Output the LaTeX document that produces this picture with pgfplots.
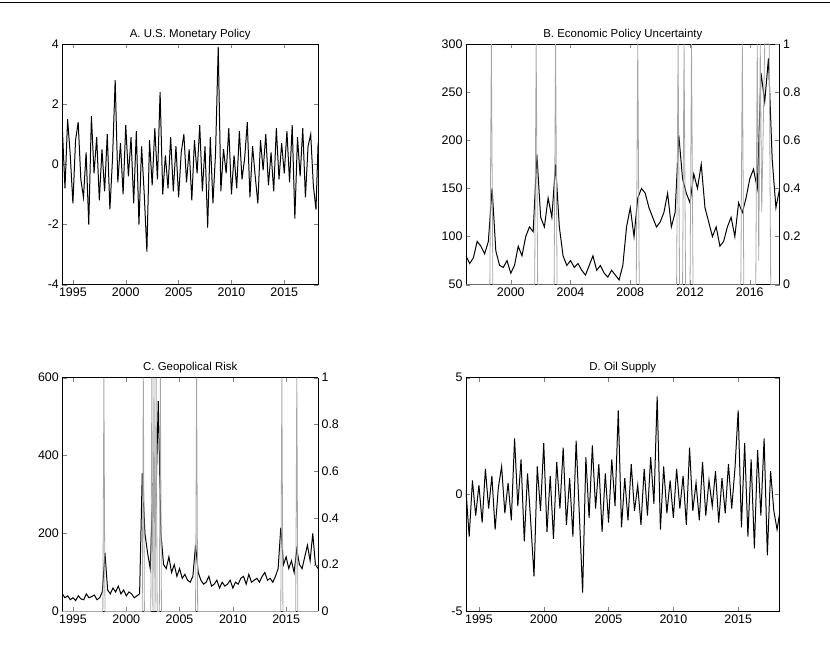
\documentclass[border=0pt]{standalone}
\usepackage{pgfplots}
\pgfplotsset{compat=1.18}
\usepackage{fontspec}
\setmainfont{Liberation Sans}
\begin{document}
\begin{tikzpicture}[x=1bp,y=1bp]
\path (0,0) rectangle (830,648);
\draw[line width=0.8bp] (0,646) -- (830,646);
\pgfplotsset{every axis/.style={scale only axis, anchor=south west, tick align=inside,
  font=\fontsize{12.5}{14}\selectfont, /pgf/number format/assume math mode=true,
  title style={font=\fontsize{11.5}{13}\selectfont, yshift=-5pt},
  /pgf/number format/1000 sep={}, axis line style={line width=0.7bp}}}
% A
\begin{axis}[at={(62bp,363bp)}, width=256bp, height=241bp, xmin=1994, xmax=2018.2, ymin=-4, ymax=4,
 xtick={1995,2000,2005,2010,2015}, ytick={-4,-2,0,2,4}, title={A. U.S. Monetary Policy}]
\addplot[black, line width=1bp] coordinates {(1994.0,1.2)(1994.25,-0.8)(1994.5,1.5)(1994.75,0.3)(1995.0,-1.3)(1995.25,0.8)(1995.5,1.4)(1995.75,-0.5)(1996,-1.1)(1996.25,0.4)(1996.5,-2.0)(1996.75,1.6)(1997,-0.3)(1997.25,0.9)(1997.5,-1.2)(1997.75,0.5)(1998,-0.9)(1998.25,1.0)(1998.5,-1.5)(1998.75,0.2)(1999,2.8)(1999.25,-0.6)(1999.5,0.7)(1999.75,-1.0)(2000,1.3)(2000.25,-0.4)(2000.5,0.9)(2000.75,-1.3)(2001,1.1)(2001.25,-2.0)(2001.5,0.6)(2001.75,-1.0)(2002,-2.9)(2002.25,0.8)(2002.5,-0.7)(2002.75,1.2)(2003,-0.5)(2003.25,2.4)(2003.5,-1.0)(2003.75,0.3)(2004,-0.8)(2004.25,0.9)(2004.5,-0.9)(2004.75,0.6)(2005,-1.1)(2005.25,0.4)(2005.5,1.0)(2005.75,-0.6)(2006,0.5)(2006.25,-1.2)(2006.5,0.8)(2006.75,-0.3)(2007,1.3)(2007.25,-0.9)(2007.5,0.6)(2007.75,-2.1)(2008,0.9)(2008.25,-1.3)(2008.5,0.4)(2008.75,3.9)(2009,-0.9)(2009.25,0.5)(2009.5,-0.3)(2009.75,1.2)(2010,-1.0)(2010.25,0.3)(2010.5,-0.8)(2010.75,1.1)(2011,-0.5)(2011.25,0.2)(2011.5,1.4)(2011.75,-1.1)(2012,0.6)(2012.25,-0.4)(2012.5,-1.3)(2012.75,0.8)(2013,-0.2)(2013.25,1.0)(2013.5,-0.7)(2013.75,0.4)(2014,-0.9)(2014.25,1.2)(2014.5,-0.5)(2014.75,0.7)(2015,-0.3)(2015.25,1.1)(2015.5,-0.6)(2015.75,1.3)(2016,-1.8)(2016.25,0.9)(2016.5,-0.4)(2016.75,1.2)(2017,-1.1)(2017.25,0.6)(2017.5,1.0)(2017.75,-0.7)(2018,-1.5)(2018.2,0.7)};
\end{axis}
% B
\begin{axis}[at={(466bp,363bp)}, width=314bp, height=241bp, xmin=1997, xmax=2018, ymin=50, ymax=300,
 xtick={2000,2004,2008,2012,2016}, ytick={50,100,...,300}, axis y line*=left, title={B. Economic Policy Uncertainty}]
\addplot[black, line width=1bp] coordinates {(1997.0,80)(1997.25,72)(1997.5,78)(1997.75,95)(1998,90)(1998.25,82)(1998.5,95)(1998.75,150)(1999,85)(1999.25,70)(1999.5,68)(1999.75,75)(2000,62)(2000.25,70)(2000.5,90)(2000.75,80)(2001,100)(2001.25,110)(2001.5,105)(2001.75,185)(2002,120)(2002.25,110)(2002.5,140)(2002.75,120)(2003,175)(2003.25,110)(2003.5,80)(2003.75,70)(2004,75)(2004.25,68)(2004.5,72)(2004.75,65)(2005,60)(2005.25,70)(2005.5,80)(2005.75,65)(2006,70)(2006.25,62)(2006.5,58)(2006.75,65)(2007,60)(2007.25,55)(2007.5,70)(2007.75,110)(2008,130)(2008.25,100)(2008.5,140)(2008.75,150)(2009,145)(2009.25,130)(2009.5,120)(2009.75,110)(2010,115)(2010.25,125)(2010.5,145)(2010.75,110)(2011,125)(2011.25,205)(2011.5,160)(2011.75,145)(2012,135)(2012.25,165)(2012.5,150)(2012.75,175)(2013,130)(2013.25,115)(2013.5,100)(2013.75,110)(2014,90)(2014.25,95)(2014.5,110)(2014.75,120)(2015,100)(2015.25,135)(2015.5,125)(2015.75,140)(2016,160)(2016.25,170)(2016.5,150)(2016.75,270)(2017,240)(2017.25,285)(2017.5,180)(2017.75,130)(2018,150)};
\end{axis}
\begin{axis}[at={(466bp,363bp)}, width=314bp, height=241bp, xmin=1997, xmax=2018, ymin=0, ymax=1,
 axis y line*=right, axis x line=none, ytick={0,0.2,...,1}]
\addplot[gray!70, line width=0.8bp] coordinates {(1997,0)(1998.6,0)(1998.7,1)(1998.8,0)(2001.6,0)(2001.7,1)(2001.8,0)(2002.9,0)(2003.0,1)(2003.1,0)(2008.4,0)(2008.5,1)(2008.6,0)(2011.1,0)(2011.2,1)(2011.3,0)(2011.5,0)(2011.6,1)(2011.7,0)(2012.0,0)(2012.1,1)(2012.2,0)(2015.4,0)(2015.5,1)(2015.6,0)(2016.4,0)(2016.5,1)(2016.6,0.1)(2016.7,1)(2016.8,0.3)(2017.0,1)(2017.3,1)(2017.4,0)(2018,0)};
\end{axis}
% C
\begin{axis}[at={(62bp,36bp)}, width=256bp, height=234bp, xmin=1994, xmax=2018, ymin=0, ymax=600,
 xtick={1995,2000,2005,2010,2015}, ytick={0,200,400,600}, axis y line*=left, title={C. Geopolical Risk}]
\addplot[black, line width=1bp] coordinates {(1994,45)(1994.25,35)(1994.5,40)(1994.75,30)(1995,35)(1995.25,28)(1995.5,40)(1995.75,32)(1996,30)(1996.25,45)(1996.5,35)(1996.75,38)(1997,42)(1997.25,30)(1997.5,35)(1997.75,50)(1998,150)(1998.25,55)(1998.5,45)(1998.75,60)(1999,50)(1999.25,65)(1999.5,45)(1999.75,55)(2000,40)(2000.25,50)(2000.5,45)(2000.75,35)(2001,40)(2001.25,45)(2001.5,355)(2001.75,200)(2002,150)(2002.25,110)(2002.5,330)(2002.75,250)(2003,540)(2003.25,200)(2003.5,120)(2003.75,110)(2004,140)(2004.25,100)(2004.5,120)(2004.75,90)(2005,110)(2005.25,85)(2005.5,95)(2005.75,80)(2006,75)(2006.25,90)(2006.5,170)(2006.75,100)(2007,80)(2007.25,70)(2007.5,75)(2007.75,90)(2008,65)(2008.25,70)(2008.5,80)(2008.75,60)(2009,75)(2009.25,65)(2009.5,70)(2009.75,80)(2010,60)(2010.25,75)(2010.5,70)(2010.75,85)(2011,90)(2011.25,70)(2011.5,95)(2011.75,75)(2012,80)(2012.25,85)(2012.5,75)(2012.75,90)(2013,100)(2013.25,80)(2013.5,85)(2013.75,75)(2014,90)(2014.25,110)(2014.5,215)(2014.75,120)(2015,140)(2015.25,110)(2015.5,130)(2015.75,100)(2016,160)(2016.25,120)(2016.5,110)(2016.75,140)(2017,170)(2017.25,130)(2017.5,200)(2017.75,120)(2018,110)};
\end{axis}
\begin{axis}[at={(62bp,36bp)}, width=256bp, height=234bp, xmin=1994, xmax=2018, ymin=0, ymax=1,
 axis y line*=right, axis x line=none, ytick={0,0.2,...,1}]
\addplot[gray!70, line width=0.8bp] coordinates {(1994,0)(1997.8,0)(1997.9,1)(1998.0,0)(2001.5,0)(2001.6,1)(2001.7,0)(2002.3,0)(2002.4,1)(2002.5,0)(2002.6,1)(2002.7,0)(2002.8,1)(2002.9,0)(2003.1,0)(2003.2,1)(2003.3,0)(2006.5,0)(2006.6,1)(2006.7,0)(2014.5,0)(2014.6,1)(2014.7,0)(2015.9,0)(2016.0,1)(2016.1,0)(2018,0)};
\end{axis}
% D
\begin{axis}[at={(466bp,36bp)}, width=314bp, height=234bp, xmin=1994, xmax=2018.2, ymin=-5, ymax=5,
 xtick={1995,2000,2005,2010,2015}, ytick={-5,0,5}, title={D. Oil Supply}]
\addplot[black, line width=1bp] coordinates {(1994,0.2)(1994.25,-1.8)(1994.5,0.6)(1994.75,-0.9)(1995,0.4)(1995.25,-1.2)(1995.5,1.1)(1995.75,-0.6)(1996,0.8)(1996.25,-1.5)(1996.5,0.3)(1996.75,1.2)(1997,-0.8)(1997.25,0.5)(1997.5,-1.1)(1997.75,2.4)(1998,-0.5)(1998.25,1.5)(1998.5,-2.0)(1998.75,0.9)(1999,-1.2)(1999.25,-3.5)(1999.5,1.2)(1999.75,-0.7)(2000,2.2)(2000.25,-1.6)(2000.5,0.8)(2000.75,-1.9)(2001,1.4)(2001.25,-0.6)(2001.5,2.0)(2001.75,-1.3)(2002,0.7)(2002.25,-1.8)(2002.5,2.3)(2002.75,-0.9)(2003,-4.2)(2003.25,1.6)(2003.5,-1.0)(2003.75,2.1)(2004,-0.6)(2004.25,1.3)(2004.5,-1.6)(2004.75,0.9)(2005,-1.2)(2005.25,1.5)(2005.5,-0.5)(2005.75,3.6)(2006,-1.4)(2006.25,0.7)(2006.5,-1.1)(2006.75,1.3)(2007,-0.7)(2007.25,0.4)(2007.5,-1.3)(2007.75,1.1)(2008,-0.9)(2008.25,1.6)(2008.5,-0.4)(2008.75,4.2)(2009,-1.5)(2009.25,1.2)(2009.5,-0.8)(2009.75,0.6)(2010,-1.0)(2010.25,1.1)(2010.5,-0.6)(2010.75,0.8)(2011,-1.3)(2011.25,2.0)(2011.5,-0.7)(2011.75,0.5)(2012,-1.1)(2012.25,1.4)(2012.5,-0.9)(2012.75,0.6)(2013,-0.5)(2013.25,1.0)(2013.5,-1.2)(2013.75,0.7)(2014,-0.8)(2014.25,1.3)(2014.5,-0.6)(2014.75,1.1)(2015,3.6)(2015.25,-1.4)(2015.5,2.2)(2015.75,-1.8)(2016,1.5)(2016.25,-2.3)(2016.5,1.9)(2016.75,-0.9)(2017,2.4)(2017.25,-2.6)(2017.5,1.0)(2017.75,-0.7)(2018,-1.5)(2018.2,-0.8)};
\end{axis}
\end{tikzpicture}
\end{document}
